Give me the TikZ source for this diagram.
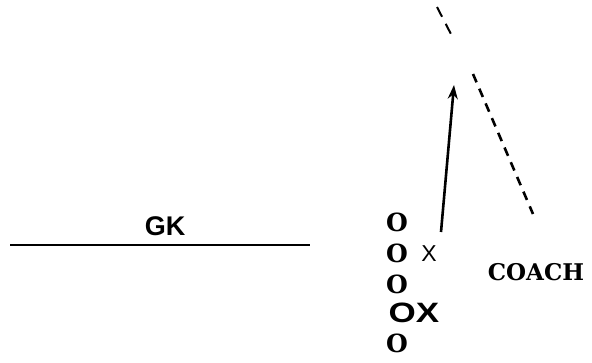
\documentclass[tikz,border=0pt]{standalone}
\usepackage{fontspec}
\usetikzlibrary{positioning, arrows.meta}
\newfontfamily\slabfont{DejaVu Serif}
\newfontfamily\gkfont{Liberation Sans}

\begin{document}
\begin{tikzpicture}[x=1pt, y=-1pt, >=Stealth, inner sep=0pt,
    player/.style={font=\slabfont\bfseries\fontsize{25}{25}\selectfont}]
    \useasboundingbox (0,0) rectangle (592,362);
    % goal line and keeper
    \coordinate (gl) at (10,245);
    \coordinate (gr) at (310,245);
    \draw[line width=1.6pt] (gl) -- (gr);
    \node[font=\gkfont\bfseries\fontsize{27}{27}\selectfont] (gk) at (165,226) {GK};
    % line of players
    \node[player] (o1) at (397,222) {O};
    \node[player, below=12pt of o1] (o2) {O};
    \node[player, below=12pt of o2] (o3) {O};
    \node[font=\gkfont\bfseries\fontsize{28}{28}\selectfont, transform shape, xscale=1.25] (ox) at (414,313) {OX};
    \node[player] (o5) at (397,343) {O};
    \node[font=\gkfont\fontsize{23}{23}\selectfont, right=13pt of o2] (x1) {X};
    \node[font=\slabfont\bfseries\fontsize{23}{23}\selectfont] (coach) at (536,272) {COACH};
    % runs
    \coordinate (runa) at (441,232);
    \coordinate (runb) at (454,85);
    \draw[line width=2.6pt, -{Stealth[length=14pt,width=10pt]}] (runa) -- (runb);
    \coordinate (passa) at (473,74);
    \coordinate (passb) at (533,214);
    \draw[line width=2.6pt, dash pattern=on 9pt off 7pt] (passa) -- (passb);
    \coordinate (topa) at (437,7);
    \coordinate (topb) at (453,38);
    \draw[line width=2pt, dash pattern=on 11pt off 8pt] (topa) -- (topb);
\end{tikzpicture}
\end{document}
